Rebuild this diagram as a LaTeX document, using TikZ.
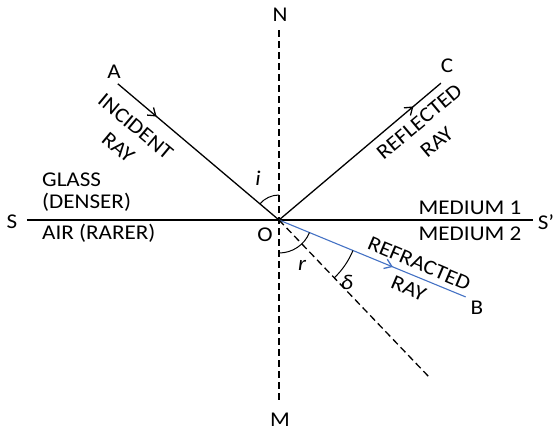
\documentclass[tikz,border=0pt]{standalone}
\usepackage{fontspec}
\setmainfont{Carlito}[FakeStretch=1.1]
\usetikzlibrary{arrows.meta,decorations.markings,calc}
\definecolor{rayblue}{RGB}{68,114,196}
\tikzset{
	ray/.style={line width=1.3pt},
	normline/.style={line width=1.3pt, dash pattern=on 7pt off 4pt},
	midarrow/.style={postaction={decorate}, decoration={markings,
		mark=at position #1 with {\arrow{Straight Barb[length=7pt,width=10pt,line width=1.3pt]}}}},
	lbl/.style={font=\fontsize{21}{27}\selectfont, inner sep=0pt},
	raylbl/.style={lbl, align=center},
	anglbl/.style={font=\fontsize{21}{24}\selectfont\itshape, inner sep=0pt},
}
\begin{document}
\begin{tikzpicture}[x=1pt, y=1pt]
		\useasboundingbox (-279,-212) rectangle (280,220);
		% Points
		\coordinate (O) at (0,0);
		\coordinate (Nend) at (0,190);
		\coordinate (Mend) at (0,-180);
		\coordinate (Send) at (-252,0);
		\coordinate (Spend) at (254,0);
		\coordinate (Aend) at (139.8:211);
		\coordinate (Cend) at (40.2:212);
		\coordinate (Bend) at (-22.4:202);
		\coordinate (Dend) at (-46.3:219);
		
		% Normal and surface
		\draw[normline] (Nend) -- (Mend);
		\draw[ray] (Send) -- (Spend);
		\node[lbl] (N) at (1,205) {N};
		\node[lbl] (M) at (1,-200) {M};
		\node[lbl] (S) at (-267,-2) {S};
		\node[lbl] (Sp) at (267,-2) {S’};
		\node[lbl] (Olbl) at (-14,-15) {O};
		
		% Media
		\node[lbl, anchor=west] (glass) at (-237,40) {GLASS};
		\node[lbl, anchor=west] (denser) at (-237,18) {(DENSER)};
		\node[lbl, anchor=west] (air) at (-237,-13) {AIR (RARER)};
		\node[lbl] (med1) at (191,12) {MEDIUM 1};
		\node[lbl] (med2) at (191,-14) {MEDIUM 2};
		
		% Rays
		\draw[ray, midarrow=0.24] (Aend) -- (O);
		\draw[ray, midarrow=0.83] (O) -- (Cend);
		\draw[ray, rayblue, line width=1.1pt, midarrow=0.61] (O) -- (Bend);
		\draw[normline] (O) -- (Dend);
		\node[lbl] (A) at (-165,148) {A};
		\node[lbl] (C) at (168,154) {C};
		\node[lbl] (B) at (198,-88) {B};
		\node[raylbl, rotate=-40] (inc) at (-152,83) {INCIDENT\\RAY};
		\node[raylbl, rotate=40] (refl) at (149,88) {REFLECTED\\RAY};
		\node[raylbl, rotate=-23] (refr) at (135,-56) {REFRACTED\\RAY};
		
		% Angles
		\draw[line width=1pt] (0,25) arc (90:139.8:25);
		\draw[line width=1pt] (0,-33) arc (-90:-22.4:33);
		\draw[line width=1pt] (-46.3:80) arc (-46.3:-22.4:80);
		\node[anglbl] (i) at (-21,42) {i};
		\node[anglbl] (r) at (23,-45) {r};
		\node[anglbl] (delta) at (68,-62) {δ};
	\end{tikzpicture}
\end{document}
